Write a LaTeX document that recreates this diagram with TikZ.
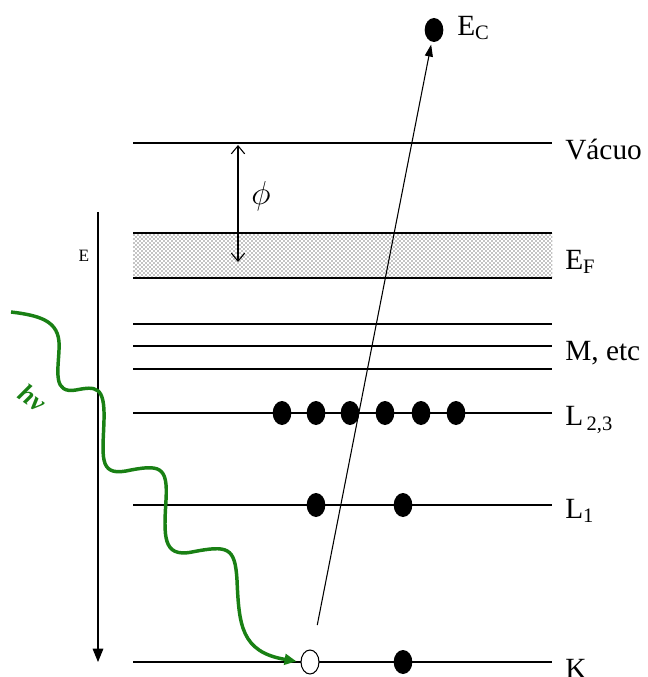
\documentclass[tikz,border=0pt]{standalone}
\usepackage{fontspec}
\setmainfont{Liberation Serif}
\usetikzlibrary{arrows.meta,shapes.geometric,patterns}
\definecolor{hvgreen}{RGB}{25,128,20}
\tikzset{
  level/.style={line width=0.8pt},
  elec/.style={ellipse, fill=black, inner sep=0pt, minimum width=14pt, minimum height=18pt},
  hole/.style={ellipse, fill=white, draw=black, line width=0.8pt, inner sep=0pt, minimum width=13.5pt, minimum height=18pt},
  lbl/.style={anchor=west, inner sep=0pt, font=\fontsize{22}{26}\selectfont},
  wave/.style={hvgreen, line width=2.6pt, -{Triangle[length=9pt,width=8pt]}},
}
\begin{document}
\begin{tikzpicture}[x=0.75pt,y=-0.75pt]
    % --- moldura (px da figura) ---
    \useasboundingbox[fill=white] (0,0) rectangle (647,677);
    \def\xL{133}      % inicio dos niveis
    \def\xR{552}      % fim dos niveis
    \def\xT{565}      % rotulos

    % --- banda de Fermi (pontilhada) ---
    \fill[pattern=crosshatch dots, pattern color=black] (\xL,233) rectangle (\xR,278);
    \draw[level] (\xL,233) -- (\xR,233);
    \draw[level] (\xL,278) -- (\xR,278);

    % --- niveis de energia ---
    \foreach \y in {143,324,346,369,413,505,662}
        \draw[level] (\xL,\y) -- (\xR,\y);

    % --- rotulos dos niveis ---
    \node[lbl] (vac) at (\xT,150) {Vácuo};
    \node[lbl] (ef)  at (\xT,262) {E\textsubscript{F}};
    \node[lbl] (mm)  at (\xT,353) {M, etc};
    \node[lbl] (l23) at (\xT,420) {L\textsubscript{\,2,3}};
    \node[lbl] (l1)  at (\xT,511) {L\textsubscript{1}};
    \node[lbl] (kk)  at (\xT,669) {K};

    % --- eletrons ---
    \foreach \x [count=\i] in {282,316,350,385,421,456}
        \node[elec] (e23-\i) at (\x,413) {};
    \node[elec] (e1-1) at (316,505) {};
    \node[elec] (e1-2) at (403,505) {};
    \node[elec] (ek) at (403,662) {};
    \node[hole] (hole) at (310,662) {};

    % --- eletron ejetado ---
    \node[elec] (ec) at (434,30) {};
    \node[lbl] (eclbl) at (457,28) {E\textsubscript{C}};
    \draw[line width=0.8pt, -{Triangle[length=9pt,width=6pt]}, shorten <=19pt, shorten >=2pt] (hole) -- (ec);

    % --- funcao trabalho ---
    \coordinate (phitop) at (238,145);
    \coordinate (phibot) at (238,262);
    \draw[line width=0.8pt, {Straight Barb[length=6pt,width=10pt]}-{Straight Barb[length=6pt,width=10pt]}] (phitop) -- (phibot);
    \node[font=\fontsize{24}{28}\selectfont] (phi) at (261,196) {$\phi$};

    % --- eixo de energia ---
    \coordinate (etop) at (98,212);
    \coordinate (ebot) at (98,662);
    \draw[line width=0.8pt, -{Triangle[length=10pt,width=8pt]}] (etop) -- (ebot);
    \node[font=\fontsize{13}{15}\selectfont] (elbl) at (84,256) {E};

    % --- foton incidente ---
    \coordinate (hvstart) at (11,312);
    \draw[wave, shorten >=3pt] (hvstart)
        .. controls (45,316) and (61,323) .. (59,350)
        .. controls (58,372) and (53,394) .. (76,390)
        .. controls (96,386) and (105,386) .. (104,420)
        .. controls (103,455) and (98,476) .. (126,471)
        .. controls (160,464) and (168,466) .. (166,500)
        .. controls (164,535) and (162,558) .. (192,552)
        .. controls (228,545) and (235,547) .. (237,580)
        .. controls (239,625) and (241,652) .. (hole.west);
    \node[hvgreen, rotate=-35, font=\bfseries\itshape\fontsize{20}{24}\selectfont] (hv) at (33,398) {hν};
\end{tikzpicture}
\end{document}
